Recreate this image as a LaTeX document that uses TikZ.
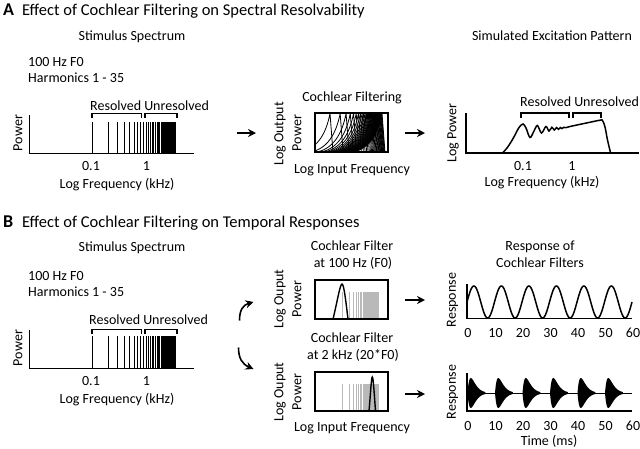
\documentclass[tikz,border=0pt]{standalone}
\usepackage{fontspec}
\setmainfont{Carlito}
\usetikzlibrary{arrows.meta}
\begin{document}
\begin{tikzpicture}[x=1pt,y=-1pt,
  lbl/.style={font=\fontsize{14}{16}\selectfont, inner sep=0pt},
  lblb/.style={lbl, anchor=base},
  lblw/.style={lbl, anchor=base west},
  ttl/.style={font=\fontsize{16.5}{19}\selectfont, inner sep=0pt, anchor=base west},
  ttlletter/.style={font=\fontsize{18}{20}\selectfont\bfseries, inner sep=0pt, anchor=base west},
  ylbl/.style={lbl, rotate=90, anchor=center},
  axis/.style={line width=1.6pt},
  harm/.style={line width=0.9pt},
  brk/.style={line width=1.1pt},
  boxline/.style={line width=1.3pt},
  arr/.style={line width=1.4pt, -{Stealth[length=8pt,width=8pt]}},
  curvearr/.style={line width=1.6pt, -{Stealth[length=8pt,width=8pt]}},
  grayharm/.style={gray!55, line width=0.7pt},
]
\useasboundingbox (0,0) rectangle (640,448);

% ---------------- Panel A ----------------
\node[ttlletter] (Alet) at (3,15) {A};
\node[ttl] (Attl) at (22,15) {Effect of Cochlear Filtering on Spectral Resolvability};

\node[lblb] (Astim) at (132,40.5) {Stimulus Spectrum};
\node[lblw] (Af0) at (28,66) {100 Hz F0};
\node[lblw] (Aharm) at (28,82) {Harmonics 1 - 35};
\node[lblw] (Ares) at (90,110) {Resolved Unresolved};

\draw[brk] (92,118) -- (92,113.5) -- (141.5,113.5) -- (141.5,118);
\draw[brk] (145,118) -- (145,113.5) -- (177,113.5) -- (177,118);
\foreach \n in {1,...,35}
  \draw[harm] ({92+54*ln(\n)/ln(10)},153) -- ({92+54*ln(\n)/ln(10)},121.5);
\draw[axis] (29.3,115) -- (29.3,153.3) -- (194,153.3);
\node[ylbl] (Apow) at (18,133) {Power};
\node[lblb] (At01) at (91,170.5) {0.1};
\node[lblb] (At1) at (146.5,170.5) {1};
\node[lblb] (Axl) at (117,188) {Log Frequency (kHz)};

\coordinate (A1s) at (237,133);
\coordinate (A1e) at (256,133);
\draw[arr] (A1s) -- (A1e);

% cochlear filtering box
\node[lblb] (Acf) at (352,101.5) {Cochlear Filtering};
\node[ylbl] (Alo) at (280,134) {Log Output};
\node[ylbl] (Apo) at (297,133) {Power};
\node[lblb] (Ali) at (352,173) {Log Input Frequency};
\begin{scope}
  \clip (315,113) rectangle (388,152);
  \foreach \n in {1,...,35}{
    \pgfmathsetmacro{\xc}{330+52*ln(\n)/ln(35)}
    \draw[line width=0.8pt] (\xc-32,152.5) .. controls (\xc-13,150) and (\xc-4,134) .. (\xc,113.5) -- (\xc+3,152.5);
  }
\end{scope}
\draw[boxline] (315,113) rectangle (388,152);

\coordinate (A2s) at (405,133);
\coordinate (A2e) at (425,133);
\draw[arr] (A2s) -- (A2e);

% excitation pattern
\node[lblb] (Asim) at (552,40.5) {Simulated Excitation Pattern};
\node[lblw] (Ares2) at (520,106.5) {Resolved Unresolved};
\draw[brk] (521,117.5) -- (521,113) -- (569,113) -- (569,117.5);
\draw[brk] (573,117.5) -- (573,113) -- (601,113) -- (601,117.5);
\draw[line width=1.5pt] plot[smooth, tension=0.55] coordinates {
 (503,152.5) (507,148) (511,142) (515,135) (519,127.5) (523,124)
 (526,128) (530,137.5) (534,131) (537.4,125.5) (541.5,133) (545.9,126.5)
 (549,131) (551.9,127.3) (554.3,130) (556.6,127.6) (558.5,129.3) (560.4,127.6)
 (562,128.6) (563.6,127.4) (566,127.6) (570,126.5) (585,123.3) (600,120.2)
 (602.5,120.5) (605,127) (607.5,140) (610.5,152.5)};
\draw[axis] (466,113) -- (466,152.7) -- (639,152.7);
\node[ylbl] (Alp) at (453,133) {Log Power};
\node[lblb] (At01b) at (523,170) {0.1};
\node[lblb] (At1b) at (572,170) {1};
\node[lblb] (Axl2) at (542,186.7) {Log Frequency (kHz)};

% ---------------- Panel B ----------------
\node[ttlletter] (Blet) at (3,227) {B};
\node[ttl] (Bttl) at (22,227) {Effect of Cochlear Filtering on Temporal Responses};

\node[lblb] (Bstim) at (132,251) {Stimulus Spectrum};
\node[lblw] (Bf0) at (28,280.5) {100 Hz F0};
\node[lblw] (Bharm) at (28,296.5) {Harmonics 1 - 35};
\node[lblw] (Bres) at (89,324) {Resolved Unresolved};
\draw[brk] (92,334) -- (92,329.5) -- (141.5,329.5) -- (141.5,334);
\draw[brk] (145,334) -- (145,329.5) -- (177,329.5) -- (177,334);
\foreach \n in {1,...,35}
  \draw[harm] ({92+54*ln(\n)/ln(10)},368) -- ({92+54*ln(\n)/ln(10)},336);
\draw[axis] (29.3,330) -- (29.3,368.3) -- (194,368.3);
\node[ylbl] (Bpow) at (18,348) {Power};
\node[lblb] (Bt01) at (91,385.5) {0.1};
\node[lblb] (Bt1) at (146.5,385.5) {1};
\node[lblb] (Bxl) at (117,403) {Log Frequency (kHz)};

% curved arrows
\coordinate (Bu1) at (239.5,320.5);
\coordinate (Bu2) at (253.5,302);
\draw[curvearr] (Bu1) .. controls (239.5,310) and (243,305) .. (Bu2);
\coordinate (Bd1) at (238.5,347.5);
\coordinate (Bd2) at (253.5,369);
\draw[curvearr] (Bd1) .. controls (238.5,358) and (242,364) .. (Bd2);

% top filter box
\node[lblb] (Bcf1) at (352,250) {Cochlear Filter};
\node[lblb] (Bcf1b) at (353,267) {at 100 Hz (F0)};
\node[ylbl] (Blo1) at (280,299) {Log Ouput};
\node[ylbl] (Bpo1) at (297,299) {Power};
\foreach \n in {1,...,35}
  \draw[grayharm] ({342+23.3*ln(\n)/ln(10)},318.5) -- ({342+23.3*ln(\n)/ln(10)},292);
\draw[line width=1.4pt] (333,319) .. controls (337,303) and (340,284) .. (342,284)
   .. controls (344,284) and (346,303) .. (348,319);
\draw[boxline] (315,280) rectangle (388,319);

% bottom filter box
\node[lblb] (Bcf2) at (352,342) {Cochlear Filter};
\node[lblb] (Bcf2b) at (353,359.5) {at 2 kHz (20*F0)};
\node[ylbl] (Blo2) at (280,392) {Log Ouput};
\node[ylbl] (Bpo2) at (297,392) {Power};
\foreach \n in {1,...,35}
  \draw[grayharm] ({342+23.3*ln(\n)/ln(10)},410.5) -- ({342+23.3*ln(\n)/ln(10)},384);
\draw[line width=1.4pt] (369,411) .. controls (370.5,395) and (371.3,377) .. (372.3,377)
   .. controls (373.3,377) and (374.3,395) .. (375.5,411);
\draw[boxline] (315,372) rectangle (388,411);
\node[lblb] (Bli) at (352,431.5) {Log Input Frequency};

\coordinate (B1s) at (405,300);
\coordinate (B1e) at (425,300);
\draw[arr] (B1s) -- (B1e);
\coordinate (B2s) at (405,394);
\coordinate (B2e) at (425,394);
\draw[arr] (B2s) -- (B2e);

% responses
\node[lblb] (Bro) at (540,250) {Response of};
\node[lblb] (Brcf) at (540,267) {Cochlear Filters};
\draw[line width=1.5pt] plot[domain=0:60, samples=241, smooth] ({467+2.75*\x},{302-16*sin(36*\x)});
\draw[axis] (466.7,284) -- (466.7,318.3) -- (632,318.3);
\node[ylbl] (Brs1) at (452.5,300) {Response};
\foreach \t in {0,10,...,60}
  \node[lblb] at ({468+2.75*\t},337) {\t};

\draw[line width=1pt] (467,393) -- (632,393);
\foreach \k in {0,...,5}{
  \fill plot[domain=0:6.5, samples=50] ({467.5+2.75*(10*\k+\x)},{393-15*(\x/1.2)*exp(1-\x/1.2)})
     -- plot[domain=6.5:0, samples=50] ({467.5+2.75*(10*\k+\x)},{393+15*(\x/1.2)*exp(1-\x/1.2)}) -- cycle;
}
\draw[axis] (466.7,373) -- (466.7,410.7) -- (632,410.7);
\node[ylbl] (Brs2) at (452.5,392) {Response};
\foreach \t in {0,10,...,60}
  \node[lblb] at ({468+2.75*\t},430) {\t};
\node[lblb] (Btime) at (549,445.5) {Time (ms)};
\end{tikzpicture}
\end{document}
